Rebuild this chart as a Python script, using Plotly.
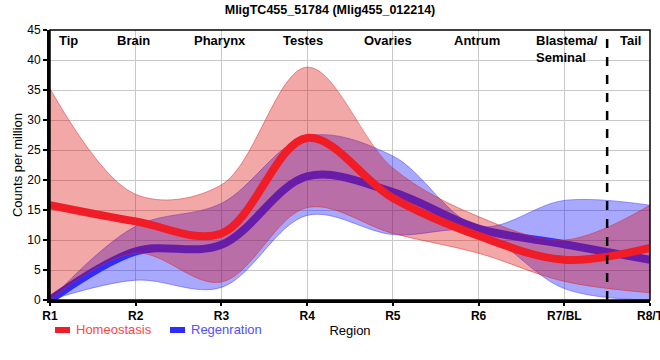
import plotly.graph_objects as go

regions = [1, 2, 3, 4, 5, 6, 7, 8]
tick_labels = ["R1", "R2", "R3", "R4", "R5", "R6", "R7/BL", "R8/T"]

homeo_mean = [15.8, 13.1, 11.1, 27.0, 17.0, 10.7, 6.7, 8.7]
homeo_upper = [35.2, 17.6, 19.2, 38.8, 22.0, 13.9, 10.0, 15.8]
homeo_lower = [0.0, 7.8, 3.0, 15.4, 11.1, 7.8, 3.1, 1.2]

regen_mean = [0.0, 8.1, 9.2, 20.6, 18.0, 11.9, 9.3, 6.7]
regen_upper = [0.0, 12.3, 16.1, 27.3, 24.0, 12.3, 16.6, 15.8]
regen_lower = [0.0, 3.3, 2.1, 14.1, 10.9, 11.3, 1.9, 0.0]

section_names = ["Tip", "Brain", "Pharynx", "Testes", "Ovaries", "Antrum", "Blastema/<br>Seminal", "Tail"]
section_x = [1.21, 1.97, 2.98, 3.95, 4.94, 5.98, 6.65, 7.77]

series_names = ["Homeostasis", "Regenration"]
series_text_colors = ["#ff4545", "#5050ff"]

RED_LINE = "rgb(240,28,38)"
BLUE_LINE = "rgb(45,45,255)"
RED_FILL = "rgba(220,0,0,0.34)"
BLUE_FILL = "rgba(0,0,255,0.34)"

fig = go.Figure()

# Regeneration band
fig.add_trace(go.Scatter(x=regions, y=regen_lower, mode="lines",
                         line=dict(color="rgba(60,60,255,0.5)", width=1, shape="spline"),
                         showlegend=False, hoverinfo="skip"))
fig.add_trace(go.Scatter(x=regions, y=regen_upper, mode="lines", fill="tonexty", fillcolor=BLUE_FILL,
                         line=dict(color="rgba(60,60,255,0.5)", width=1, shape="spline"),
                         showlegend=False, hoverinfo="skip"))
# Regeneration mean
fig.add_trace(go.Scatter(x=regions, y=regen_mean, mode="lines", line=dict(color=BLUE_LINE, width=8, shape="spline"),
                         name=series_names[1], showlegend=False))
# Homeostasis band
fig.add_trace(go.Scatter(x=regions, y=homeo_lower, mode="lines",
                         line=dict(color="rgba(220,40,40,0.5)", width=1, shape="spline"),
                         showlegend=False, hoverinfo="skip"))
fig.add_trace(go.Scatter(x=regions, y=homeo_upper, mode="lines", fill="tonexty", fillcolor=RED_FILL,
                         line=dict(color="rgba(220,40,40,0.5)", width=1, shape="spline"),
                         showlegend=False, hoverinfo="skip"))
# Homeostasis mean
fig.add_trace(go.Scatter(x=regions, y=homeo_mean, mode="lines", line=dict(color=RED_LINE, width=8, shape="spline"),
                         name=series_names[0], showlegend=False))

# dashed separator between Blastema and Tail
fig.add_shape(type="line", x0=7.5, x1=7.5, y0=0, y1=45, xref="x", yref="y",
              line=dict(color="black", width=2.5, dash="dash"))
# thin frame
fig.add_shape(type="rect", x0=0, x1=1, y0=0, y1=1, xref="paper", yref="paper",
              line=dict(color="black", width=1.5), layer="above")

for name, xv in zip(section_names, section_x):
    is_multi = "<br>" in name
    fig.add_annotation(x=xv, y=45, xref="x", yref="y", text="<b>" + name + "</b>", showarrow=False,
                       xanchor="left" if is_multi else "center", yanchor="top", align="left",
                       yshift=-1, font=dict(size=13, color="black", family="Liberation Sans"))

# custom legend (swatch + coloured label)
legend_sw_x = [0.0083, 0.2]
for i, (nm, col, lc) in enumerate(zip(series_names, series_text_colors, [RED_LINE, BLUE_LINE])):
    x0 = legend_sw_x[i]
    fig.add_shape(type="rect", xref="paper", yref="paper", x0=x0, x1=x0 + 0.025, y0=-0.1222, y1=-0.1,
                  line=dict(width=0), fillcolor=lc)
    fig.add_annotation(xref="paper", yref="paper", x=x0 + 0.0317, y=-0.111, text=nm, showarrow=False,
                       xanchor="left", yanchor="middle", font=dict(size=13, color=col))

fig.update_layout(
    width=660, height=360,
    margin=dict(l=50, r=10, t=30, b=60, autoexpand=False),
    paper_bgcolor="white", plot_bgcolor="white",
    showlegend=False,
    font=dict(family="Liberation Sans, Arial, sans-serif", size=12, color="black"),
    title=dict(text="<b>MligTC455_51784 (Mlig455_012214)</b>", x=0.5, xanchor="center", y=0.972, yanchor="middle",
               font=dict(size=12.5)),
    xaxis=dict(range=[1, 8], tickvals=regions, ticktext=["<b>" + t + "</b>" for t in tick_labels],
               showgrid=True, gridcolor="#c8c8c8", gridwidth=1, zeroline=False, automargin=False,
               ticklabeloverflow="allow",
               showline=True, linecolor="black", linewidth=3, ticks="outside", ticklen=3, tickwidth=2,
               tickcolor="black", tickfont=dict(size=12),
               title=dict(text="Region", font=dict(size=13), standoff=4)),
    yaxis=dict(range=[0, 45], dtick=5, showgrid=True, gridcolor="#c8c8c8", gridwidth=1, zeroline=False,
               automargin=False,
               showline=True, linecolor="black", linewidth=3, ticks="outside", ticklen=4, tickwidth=1.5,
               tickcolor="black", tickfont=dict(size=12),
               title=dict(text="Counts per million", font=dict(size=13), standoff=2)),
)

fig.write_html("out.html", config={"displayModeBar": False},
               post_script="document.body.style.margin='0';document.body.style.overflow='hidden';")
